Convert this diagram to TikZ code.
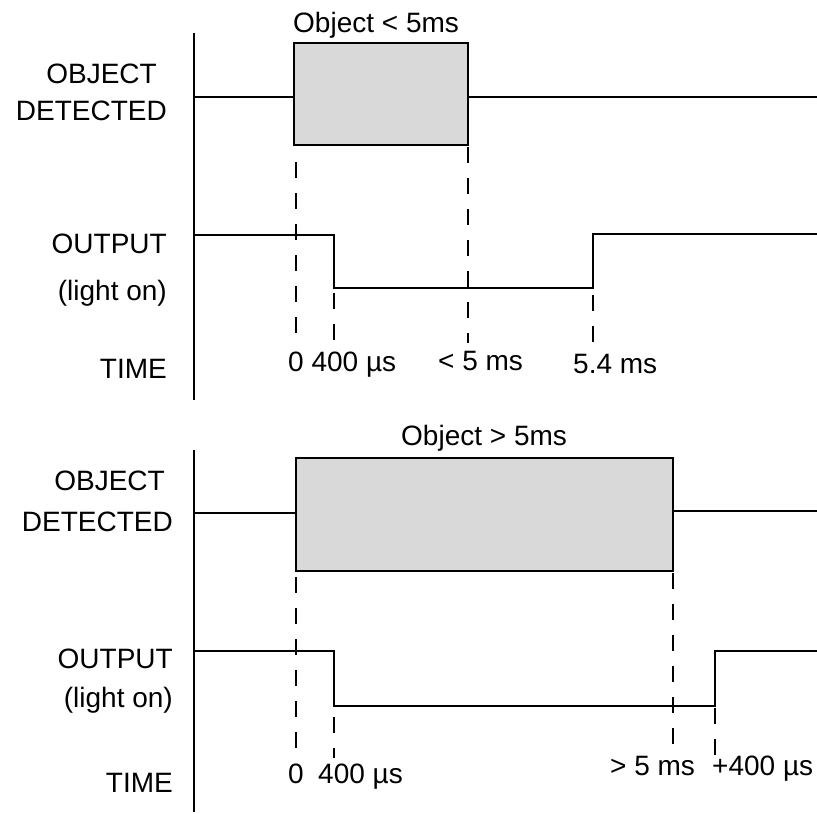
\documentclass[tikz,border=0pt]{standalone}
\usepackage{fontspec}
\setmainfont{Liberation Sans}
\begin{document}
\begin{tikzpicture}[x=1pt,y=-1pt,
  sig/.style={line width=2pt, line join=miter},
  guide/.style={line width=2pt, dash pattern=on 16pt off 15pt},
  objbox/.style={line width=2pt, fill=black!15},
  lbl/.style={inner sep=0pt, font=\fontsize{28}{32}\selectfont},
  axisline/.style={line width=2pt}]
\useasboundingbox (0,0) rectangle (817,814);
% ---------- top panel ----------
\node[lbl, anchor=base west] (t1) at (293,32) {Object < 5ms};
\node[lbl, anchor=base east] (a1) at (157,83) {OBJECT};
\node[lbl, anchor=base east] (b1) at (167,120) {DETECTED};
\node[lbl, anchor=base east] (c1) at (167,253) {OUTPUT};
\node[lbl, anchor=base east] (d1) at (167,300) {(light on)};
\node[lbl, anchor=base east] (e1) at (167,378) {TIME};
\coordinate (ax1t) at (194,33);
\coordinate (ax1b) at (194,400);
\draw[axisline] (ax1t) -- (ax1b);
\draw[objbox] (294,43) rectangle (468,145);
\draw[sig] (194,97) -- (294,97);
\draw[sig] (468,97) -- (817,97);
\draw[sig] (194,235) -- (334,235) -- (334,288) -- (593,288) -- (593,234) -- (817,234);
\draw[guide] (296,162) -- (296,343);
\draw[guide] (468,147) -- (468,343);
\draw[guide] (334,293) -- (334,343);
\draw[guide] (593,295) -- (593,343);
\node[lbl, anchor=base west] (l1) at (288,371) {0 400 µs};
\node[lbl, anchor=base west] (l2) at (438,370) {< 5 ms};
\node[lbl, anchor=base west] (l3) at (573,373) {5.4 ms};
% ---------- bottom panel ----------
\node[lbl, anchor=base west] (t2) at (401,445) {Object > 5ms};
\node[lbl, anchor=base east] (a2) at (165,490) {OBJECT};
\node[lbl, anchor=base east] (b2) at (173,531) {DETECTED};
\node[lbl, anchor=base east] (c2) at (173,668) {OUTPUT};
\node[lbl, anchor=base east] (d2) at (173,707) {(light on)};
\node[lbl, anchor=base east] (e2) at (173,792) {TIME};
\coordinate (ax2t) at (194,450);
\coordinate (ax2b) at (194,812);
\draw[axisline] (ax2t) -- (ax2b);
\draw[objbox] (296,458) rectangle (673,571);
\draw[sig] (194,513) -- (296,513);
\draw[sig] (673,511) -- (817,511);
\draw[sig] (194,651) -- (334,651) -- (334,706) -- (715,706) -- (715,651) -- (817,651);
\draw[guide] (296,577) -- (296,758);
\draw[guide] (673,573) -- (673,755);
\draw[guide] (334,717) -- (334,758);
\draw[guide] (715,708) -- (715,758);
\node[lbl, anchor=base west] (m1) at (288,783) {0};
\node[lbl, anchor=base west] (m2) at (318,783) {400 µs};
\node[lbl, anchor=base west] (m3) at (610,775) {> 5 ms};
\node[lbl, anchor=base west] (m4) at (712,775) {+400 µs};
\end{tikzpicture}
\end{document}
